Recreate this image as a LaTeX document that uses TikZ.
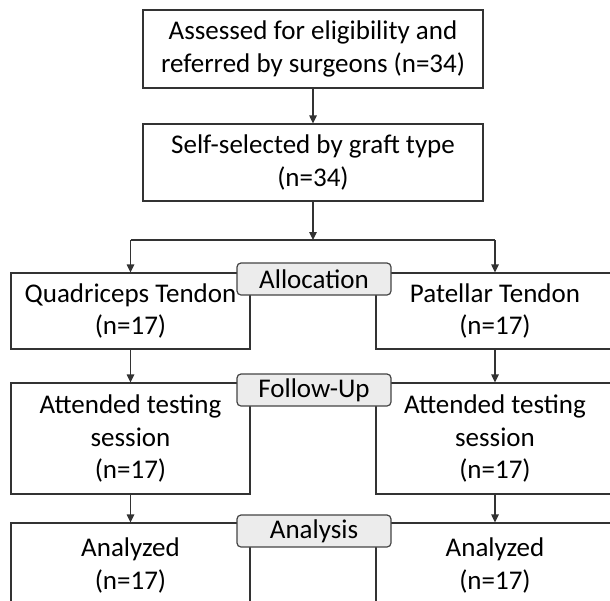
\documentclass[tikz,border=0pt]{standalone}
\usepackage{fontspec}
\setmainfont{Carlito}
\usetikzlibrary{arrows.meta}
\definecolor{lineclr}{HTML}{333333}
\definecolor{labfill}{HTML}{ECECEC}
\definecolor{labline}{HTML}{444444}
\tikzset{
  box/.style={draw=lineclr, line width=1.2pt, fill=white, inner sep=0pt,
    align=center, font=\fontsize{27}{32.5}\selectfont, text=black},
  stagelabel/.style={draw=labline, line width=1.2pt, fill=labfill, rounded corners=4pt,
    inner sep=0pt, minimum width=154pt, minimum height=32pt,
    font=\fontsize{27}{32.5}\selectfont, text=black},
  arr/.style={draw=lineclr, line width=1.2pt, -{Triangle[length=8pt,width=7.5pt]}},
  plain/.style={draw=lineclr, line width=1.2pt}
}
\begin{document}
\begin{tikzpicture}[x=1pt,y=-1pt]
\useasboundingbox (0,0) rectangle (610,600);
\fill[white] (0,0) rectangle (610,600);
\clip (0,0) rectangle (610,600);
% boxes
\node[box, minimum width=340pt, minimum height=78pt] (top) at (313,49)
  {Assessed for eligibility and\\referred by surgeons (n=34)};
\node[box, minimum width=340pt, minimum height=77pt] (sel) at (313,162.5)
  {Self-selected by graft type\\(n=34)};
\node[box, minimum width=239pt, minimum height=76pt] (q) at (130.5,311)
  {Quadriceps Tendon\\(n=17)};
\node[box, minimum width=238pt, minimum height=76pt] (p) at (495,311)
  {Patellar Tendon\\(n=17)};
\node[box, minimum width=239pt, minimum height=111pt] (aq) at (130.5,438.5)
  {Attended testing\\session\\(n=17)};
\node[box, minimum width=238pt, minimum height=111pt] (ap) at (495,438.5)
  {Attended testing\\session\\(n=17)};
\node[box, minimum width=239pt, minimum height=85pt] (nq) at (130.5,565.5)
  {Analyzed\\(n=17)};
\node[box, minimum width=238pt, minimum height=85pt] (np) at (495,565.5)
  {Analyzed\\(n=17)};
% stage labels
\node[stagelabel] (alloc) at (314,279) {Allocation};
\node[stagelabel] (follow) at (314,390) {Follow-Up};
\node[stagelabel] (analysis) at (314,531) {Analysis};
% connectors
\coordinate (br) at (313,240);
\draw[arr] (top.south) -- (sel.north);
\draw[arr] (sel.south) -- (br);
\draw[plain] (br -| q.north) -- (br -| p.north);
\draw[arr] (br -| q.north) -- (q.north);
\draw[arr] (br -| p.north) -- (p.north);
\draw[arr] (q.south) -- (aq.north);
\draw[arr] (p.south) -- (ap.north);
\draw[arr] (aq.south) -- (nq.north);
\draw[arr] (ap.south) -- (np.north);
\end{tikzpicture}
\end{document}
